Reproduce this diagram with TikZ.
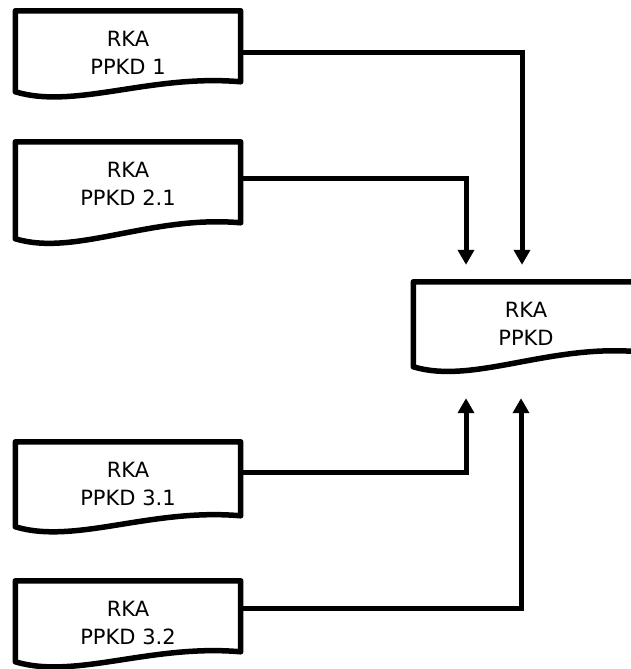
\documentclass[tikz,border=0pt]{standalone}
\usepackage{fontspec}
\setmainfont{DejaVu Sans}
\usepackage{tikz}
\usetikzlibrary{positioning, arrows.meta, calc}

\begin{document}
\begin{tikzpicture}[
  x=1pt, y=-1pt,
  berkas/.style={minimum width=225pt, minimum height=84pt, inner sep=0pt,
                 align=center, font=\fontsize{21pt}{28pt}\selectfont},
  garis/.style={line width=5.5pt, line join=round},
  ar/.style={-{Triangle[width=16pt,length=15pt]}, line width=5pt},
]
  \useasboundingbox (0,0) rectangle (630,669);

  % dokumen sumber (kiri) dan tujuan (kanan)
  \node[berkas] (ppkd1)  at (128,53)  {RKA\\PPKD 1};
  \node[berkas] (ppkd21) at (128,184) {RKA\\PPKD 2.1};
  \node[berkas] (ppkd31) at (128,484) {RKA\\PPKD 3.1};
  \node[berkas] (ppkd32) at (128,623) {RKA\\PPKD 3.2};
  \node[berkas] (ppkd)   at (526,324) {RKA\\PPKD};

  % bentuk dokumen: tinggi sisi kanan / turunnya sudut kiri bawah
  \foreach \n/\h/\d in {ppkd1/71/10, ppkd21/81/16, ppkd31/74/11, ppkd32/71/10, ppkd/70/15}
    \draw[garis] (\n.north west) -- (\n.north east) -- ($(\n.north east)+(0,\h)$)
      .. controls ($(\n.north east)+(-90,\h-8)$) and ($(\n.north west)+(60,\h+\d+18)$)
      .. ($(\n.north west)+(0,\h+\d)$) -- cycle;

  % ujung panah
  \coordinate (atas1)  at ([xshift=-60pt,yshift=17pt]ppkd.north);
  \coordinate (atas2)  at ([xshift=-4pt,yshift=17pt]ppkd.north);
  \coordinate (bawah1) at ([xshift=-60pt,yshift=-32pt]ppkd.south);
  \coordinate (bawah2) at ([xshift=-5pt,yshift=-32pt]ppkd.south);

  \draw[ar] (ppkd1.east) -| (atas2);
  \draw[ar] ([yshift=6pt]ppkd21.east) -| (atas1);
  \draw[ar] ([yshift=12pt]ppkd31.east) -| (bawah1);
  \draw[ar] ([yshift=15pt]ppkd32.east) -| (bawah2);
\end{tikzpicture}
\end{document}
